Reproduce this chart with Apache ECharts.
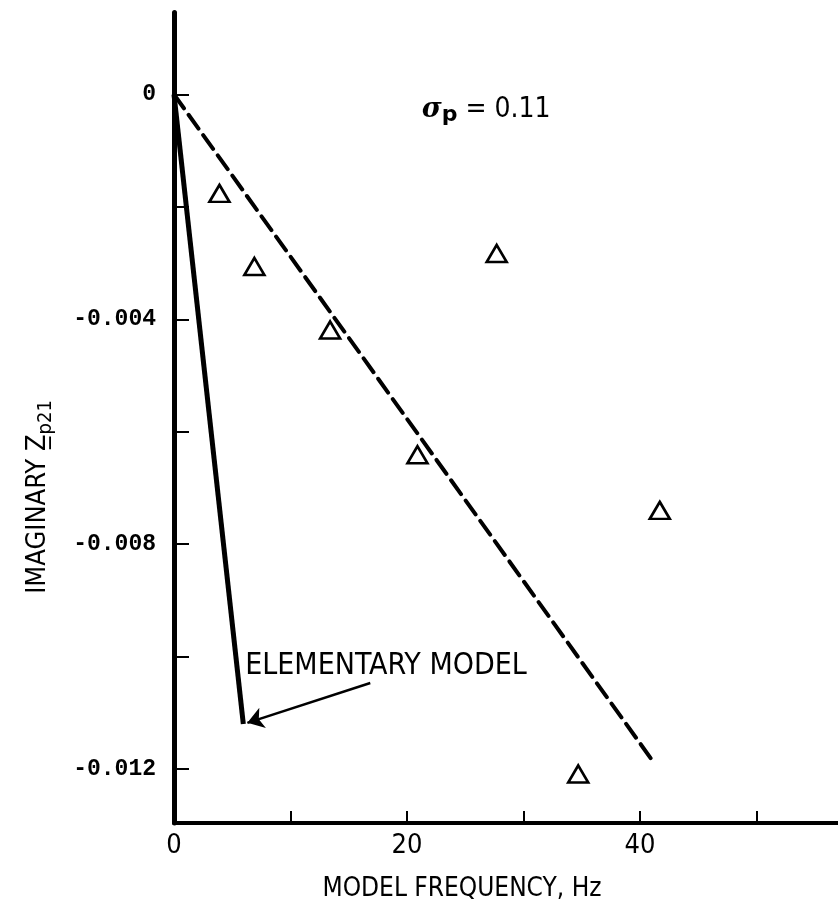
<!DOCTYPE html>
<html>
<head>
<meta charset="utf-8">
<title>Imaginary Z p21 vs model frequency</title>
<script src="https://cdn.jsdelivr.net/npm/echarts@6/dist/echarts.min.js"></script>
<style>
  html, body { margin: 0; padding: 0; background: #fff; }
  #chart { width: 838px; height: 919px; }
</style>
</head>
<body>
<div id="chart"></div>
<script>
// Measured points (triangles)
const measFreq = [3.9, 6.9, 13.4, 20.9, 27.7, 41.7, 34.7];
const measImag = [-0.00176, -0.00306, -0.00419, -0.00641, -0.00283, -0.0074, -0.01209];

// Dashed straight-line fit
const fitFreq = [0, 41.1];
const fitImag = [0, -0.01186];

// Elementary model curve
const modelFreq = [0, 5.95];
const modelImag = [0, -0.0112];

// Arrow pointing from the label to the elementary model
const arrowFreq = [16.85, 6.3];
const arrowImag = [-0.01047, -0.01118];

// Annotation anchors
const modelLabelAt = [18.2, -0.01018];
const sigmaLabelAt = [26.8, -0.00027];

// Ticks and labels
const xTickValues = [10, 20, 30, 40, 50];
const xLabelValues = [0, 20, 40];
const yTickValues = [0, -0.002, -0.004, -0.006, -0.008, -0.010, -0.012];
const yLabelValues = [0, -0.004, -0.008, -0.012];

const INK = '#000';
const NARROW = '"Liberation Sans Narrow", "DejaVu Sans Condensed", "Liberation Sans", sans-serif';
const MONO = '"Liberation Mono", "DejaVu Sans Mono", monospace';

const zip = (a, b) => a.map((v, i) => [v, b[i]]);

const chart = echarts.init(document.getElementById('chart'), null, { renderer: 'canvas' });

chart.setOption({
  backgroundColor: '#fff',
  animation: false,
  grid: { left: 174, right: 0, top: 12.4, bottom: 96.1, containLabel: false },
  xAxis: {
    type: 'value',
    min: 0,
    max: 57,
    axisLine: { show: true, onZero: false, lineStyle: { color: INK, width: 4 } },
    axisTick: {
      show: true, inside: true, length: 12,
      customValues: xTickValues,
      lineStyle: { color: INK, width: 2 }
    },
    axisLabel: {
      customValues: xLabelValues,
      color: INK, fontFamily: NARROW, fontSize: 27, margin: 10,
      formatter: v => String(v)
    },
    splitLine: { show: false }
  },
  yAxis: {
    type: 'value',
    min: -0.01296,
    max: 0.00146,
    axisLine: { show: true, onZero: false, lineStyle: { color: INK, width: 5 } },
    axisTick: {
      show: true, inside: true, length: 15,
      customValues: yTickValues,
      lineStyle: { color: INK, width: 2 }
    },
    axisLabel: {
      customValues: yLabelValues,
      color: INK, fontFamily: MONO, fontSize: 23, fontWeight: 'bold', margin: 18,
      formatter: v => (v === 0 ? '0' : v.toFixed(3))
    },
    splitLine: { show: false }
  },
  graphic: [
    {
      type: 'text',
      x: 38, y: 497,
      rotation: Math.PI / 2,
      style: {
        text: '{a|IMAGINARY }{z|Z\u0332}{s|p21}',
        align: 'center',
        verticalAlign: 'middle',
        fill: INK,
        rich: {
          a: { fontFamily: NARROW, fontSize: 27, fill: INK },
          z: { fontFamily: NARROW, fontSize: 27, fill: INK },
          s: { fontFamily: NARROW, fontSize: 20, fill: INK, padding: [16, 0, 0, 0] }
        }
      }
    },
    {
      type: 'text',
      x: 462, y: 889,
      style: {
        text: 'MODEL FREQUENCY, Hz',
        align: 'center',
        verticalAlign: 'middle',
        fontFamily: NARROW,
        fontSize: 26,
        fill: INK
      }
    }
  ],
  series: [
    {
      name: 'Elementary model',
      type: 'line',
      data: zip(modelFreq, modelImag),
      showSymbol: false,
      symbol: 'none',
      lineStyle: { color: INK, width: 5 },
      z: 3
    },
    {
      name: 'Fit',
      type: 'line',
      data: zip(fitFreq, fitImag),
      showSymbol: false,
      symbol: 'none',
      lineStyle: { color: INK, width: 4, type: [17, 8], cap: 'round' },
      z: 3
    },
    {
      name: 'Measured',
      type: 'scatter',
      data: zip(measFreq, measImag),
      symbol: 'triangle',
      symbolSize: [20, 17],
      itemStyle: { color: '#fff', borderColor: INK, borderWidth: 2.6, opacity: 1 },
      z: 4
    },
    {
      name: 'Arrow',
      type: 'lines',
      coordinateSystem: 'cartesian2d',
      polyline: false,
      symbol: ['none', 'arrow'],
      symbolSize: [8, 16],
      lineStyle: { color: INK, width: 2.5, opacity: 1, curveness: 0 },
      data: [{ coords: zip(arrowFreq, arrowImag) }],
      z: 5
    },
    {
      name: 'Notes',
      type: 'scatter',
      symbolSize: 1,
      itemStyle: { color: 'rgba(0,0,0,0)', opacity: 1 },
      silent: true,
      data: [
        {
          value: modelLabelAt,
          label: {
            show: true, position: 'inside', opacity: 1,
            formatter: 'ELEMENTARY MODEL',
            fontFamily: NARROW, fontSize: 30, color: INK
          }
        },
        {
          value: sigmaLabelAt,
          label: {
            show: true, position: 'inside', opacity: 1,
            formatter: '{s|\u03C3}{p|p}{t| = 0.11}',
            rich: {
              s: { fontFamily: '"DejaVu Serif", serif', fontStyle: 'italic', fontWeight: 'bold', fontSize: 27, color: INK },
              p: { fontFamily: '"DejaVu Sans", sans-serif', fontWeight: 'bold', fontSize: 22, color: INK, padding: [12, 0, 0, 0] },
              t: { fontFamily: NARROW, fontSize: 28, color: INK }
            }
          }
        }
      ],
      z: 6
    }
  ]
});
</script>
</body>
</html>
